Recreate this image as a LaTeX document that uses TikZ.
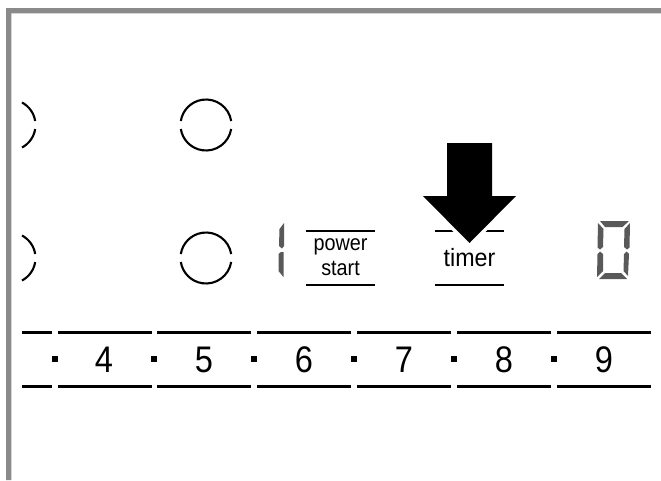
\documentclass[tikz,border=0pt]{standalone}
\usepackage{fontspec}
\usepackage{graphicx}
\setmainfont{Liberation Sans}
\definecolor{framegray}{HTML}{8A8A8A}
\definecolor{seggray}{HTML}{595959}
\tikzset{
  bar/.style={line width=2.6pt,black},
  ring/.style={line width=2.1pt,black},
  seg/.style={fill=seggray,draw=none},
  dotmark/.style={fill=black,draw=none},
  digit/.style={inner sep=0pt,font=\fontsize{37}{37}\selectfont},
  keylabel/.style={inner sep=0pt,align=center}
}
\begin{document}
\begin{tikzpicture}[x=1pt,y=-1pt]
\useasboundingbox (0,0) rectangle (661,480);
\fill[white] (0,0) rectangle (661,480);
% frame
\fill[framegray] (6,480) -- (6,8) -- (661,8) -- (661,13.3) -- (11.3,13.3) -- (11.3,480) -- cycle;
% cooking zones
\foreach \cy in {125,258}{
  \draw[ring] (206,\cy) ++(9:25.5) arc (9:171:25.5);
  \draw[ring] (206,\cy) ++(-9:25.5) arc (-9:-171:25.5);
  \draw[ring] (10,\cy) ++(9:25.5) arc (9:62:25.5);
  \draw[ring] (10,\cy) ++(-9:25.5) arc (-9:-62:25.5);
}
% digit 1
\fill[seg] (284,223) -- (284,246) -- (282,248.5) -- (279,246) -- (279.5,229) -- cycle;
\fill[seg] (283.5,252) -- (283.5,277) -- (278.5,271) -- (278.5,254) -- (281,252) -- cycle;
% key bars
\foreach \xa/\xb in {306/375,435/504}{
  \draw[bar] (\xa,231) -- (\xb,231);
  \draw[bar] (\xa,285) -- (\xb,285);
}
\node[keylabel] (power) at (340.5,246.5) {\scalebox{.9}[1]{\fontsize{22}{22}\selectfont power}};
\node[keylabel] (start) at (340.5,268.5) {\scalebox{.9}[1]{\fontsize{22}{22}\selectfont start}};
\node[keylabel] (timer) at (469.5,258) {\scalebox{.93}[1]{\fontsize{25}{25}\selectfont timer}};
% arrow
\draw[white,line width=7pt,miter limit=10,fill=black] (447,143) -- (492,143) -- (492,196) -- (516,196) -- (469.5,243) -- (423,196) -- (447,196) -- cycle;
\fill[black] (447,143) -- (492,143) -- (492,196) -- (516,196) -- (469.5,243) -- (423,196) -- (447,196) -- cycle;
% digit 0
\fill[seg] (600,221) -- (629,221) -- (622.5,227) -- (605,227) -- cycle;
\fill[seg] (598,223) -- (603.5,229) -- (603,247) -- (600,249.5) -- (597.5,247.5) -- cycle;
\fill[seg] (597.5,254) -- (600,251.5) -- (603,254) -- (603,271) -- (597,277) -- cycle;
\fill[seg] (599,279) -- (627,279) -- (621,273) -- (605,273) -- cycle;
\fill[seg] (630,223) -- (629.5,247.5) -- (627,249.5) -- (624,247) -- (624.5,229) -- cycle;
\fill[seg] (629,254) -- (626.5,251.5) -- (624,254) -- (623.5,271) -- (628,276) -- cycle;
% scale
\foreach \xa/\xb in {22/52,58/152,157/251,257/351,357/451,457/551,557/651}{
  \draw[bar] (\xa,332.3) -- (\xb,332.3);
  \draw[bar] (\xa,386.3) -- (\xb,386.3);
}
\foreach \x in {55,154,254,354,454,554}{
  \fill[dotmark] (\x-3,356) rectangle (\x+3,362);
}
\foreach \x/\t in {104/4,204/5,304/6,404/7,504/8,604/9}{
  \node[digit] (d\t) at (\x,359.5) {\scalebox{.88}[1]{\t}};
}
\end{tikzpicture}
\end{document}
